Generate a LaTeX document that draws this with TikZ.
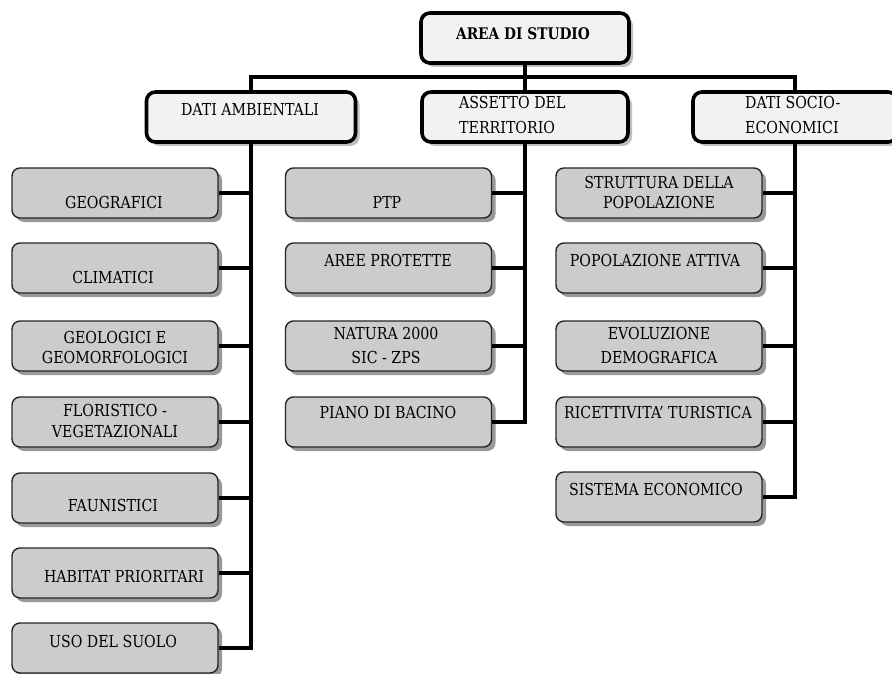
\documentclass[tikz,border=0pt]{standalone}
\usepackage{fontspec}
\setmainfont{DejaVu Serif}[FakeStretch=0.86]
\usetikzlibrary{shadows}
\begin{document}
\begin{tikzpicture}[x=1pt,y=-1pt,
  topbox/.style={draw=black, line width=3.6pt, rounded corners=9pt, fill=black!5,
    minimum height=50pt, inner sep=0pt,
    drop shadow={shadow xshift=4pt, shadow yshift=-4pt, fill=black!25, opacity=1}},
  childbox/.style={draw=black!85, line width=1.4pt, rounded corners=8pt, fill=black!20,
    minimum width=206pt, minimum height=50pt, inner sep=0pt,
    drop shadow={shadow xshift=4pt, shadow yshift=-4pt, fill=black!40, opacity=1}},
  txt/.style={anchor=base, align=center, inner sep=0pt, font=\fontsize{16.5}{20}\selectfont},
  conn/.style={line width=3.8pt, black}]
\clip (0,0) rectangle (892,674);
\fill[white] (0,0) rectangle (892,674);

% top level
\node[topbox, minimum width=208pt] (area) at (525,38) {};
\node[txt, font=\fontsize{16}{20}\selectfont\bfseries] (areat) at (523,40) {AREA DI STUDIO};
\node[topbox, minimum width=209pt] (amb) at (251,117) {};
\node[txt] (ambt) at (250,116) {DATI AMBIENTALI};
\node[topbox, minimum width=206pt] (ass) at (525,117) {};
\node[txt, anchor=base west, align=left, font=\fontsize{16.5}{25}\selectfont] (asst) at (459,134) {ASSETTO DEL\\TERRITORIO};
\node[topbox, minimum width=204pt] (soc) at (795,117) {};
\node[txt, anchor=base west, align=left, font=\fontsize{16.5}{25}\selectfont] (soct) at (745,134) {DATI SOCIO-\\ECONOMICI};

\coordinate (hl) at (251,77);
\draw[conn] (amb.north) -- (hl) -- (hl -| soc.north) -- (soc.north);
\draw[conn] (area.south) -- (ass.north);

% left column
\node[childbox] (g1) at (115,193) {};
\node[txt] (g1t) at (114,208) {GEOGRAFICI};
\node[childbox] (g2) at (115,268) {};
\node[txt] (g2t) at (113,283) {CLIMATICI};
\node[childbox] (g3) at (115,346) {};
\node[txt] (g3t) at (115,363) {GEOLOGICI E\\[0pt]GEOMORFOLOGICI};
\node[childbox] (g4) at (115,422) {};
\node[txt] (g4t) at (115,437) {FLORISTICO -\\[1pt]VEGETAZIONALI};
\node[childbox] (g5) at (115,498) {};
\node[txt] (g5t) at (113,511) {FAUNISTICI};
\node[childbox] (g6) at (115,573) {};
\node[txt] (g6t) at (124,582) {HABITAT PRIORITARI};
\node[childbox] (g7) at (115,648) {};
\node[txt] (g7t) at (113,647) {USO DEL SUOLO};

\foreach \n in {g1,g2,g3,g4,g5,g6}
  \draw[conn] (\n.east) -- (\n.east -| amb.south);
\draw[conn] (amb.south) |- (g7.east);

% middle column
\node[childbox] (m1) at (388.5,193) {};
\node[txt] (m1t) at (387,208) {PTP};
\node[childbox] (m2) at (388.5,268) {};
\node[txt] (m2t) at (388,266) {AREE PROTETTE};
\node[childbox] (m3) at (388.5,346) {};
\node[txt] (m3t) at (386,363) {NATURA 2000\\[4pt]SIC - ZPS};
\node[childbox] (m4) at (388.5,422) {};
\node[txt] (m4t) at (388,418) {PIANO DI BACINO};

\foreach \n in {m1,m2,m3}
  \draw[conn] (\n.east) -- (\n.east -| ass.south);
\draw[conn] (ass.south) |- (m4.east);

% right column
\node[childbox] (r1) at (659,193) {};
\node[txt] (r1t) at (659,208) {STRUTTURA DELLA\\[0pt]POPOLAZIONE};
\node[childbox] (r2) at (659,268) {};
\node[txt] (r2t) at (655,266) {POPOLAZIONE ATTIVA};
\node[childbox] (r3) at (659,346) {};
\node[txt] (r3t) at (659,363) {EVOLUZIONE\\[4pt]DEMOGRAFICA};
\node[childbox] (r4) at (659,422) {};
\node[txt] (r4t) at (658,418) {RICETTIVITA' TURISTICA};
\node[childbox] (r5) at (659,497) {};
\node[txt] (r5t) at (656,495) {SISTEMA ECONOMICO};

\foreach \n in {r1,r2,r3,r4}
  \draw[conn] (\n.east) -- (\n.east -| soc.south);
\draw[conn] (soc.south) |- (r5.east);
\end{tikzpicture}
\end{document}
